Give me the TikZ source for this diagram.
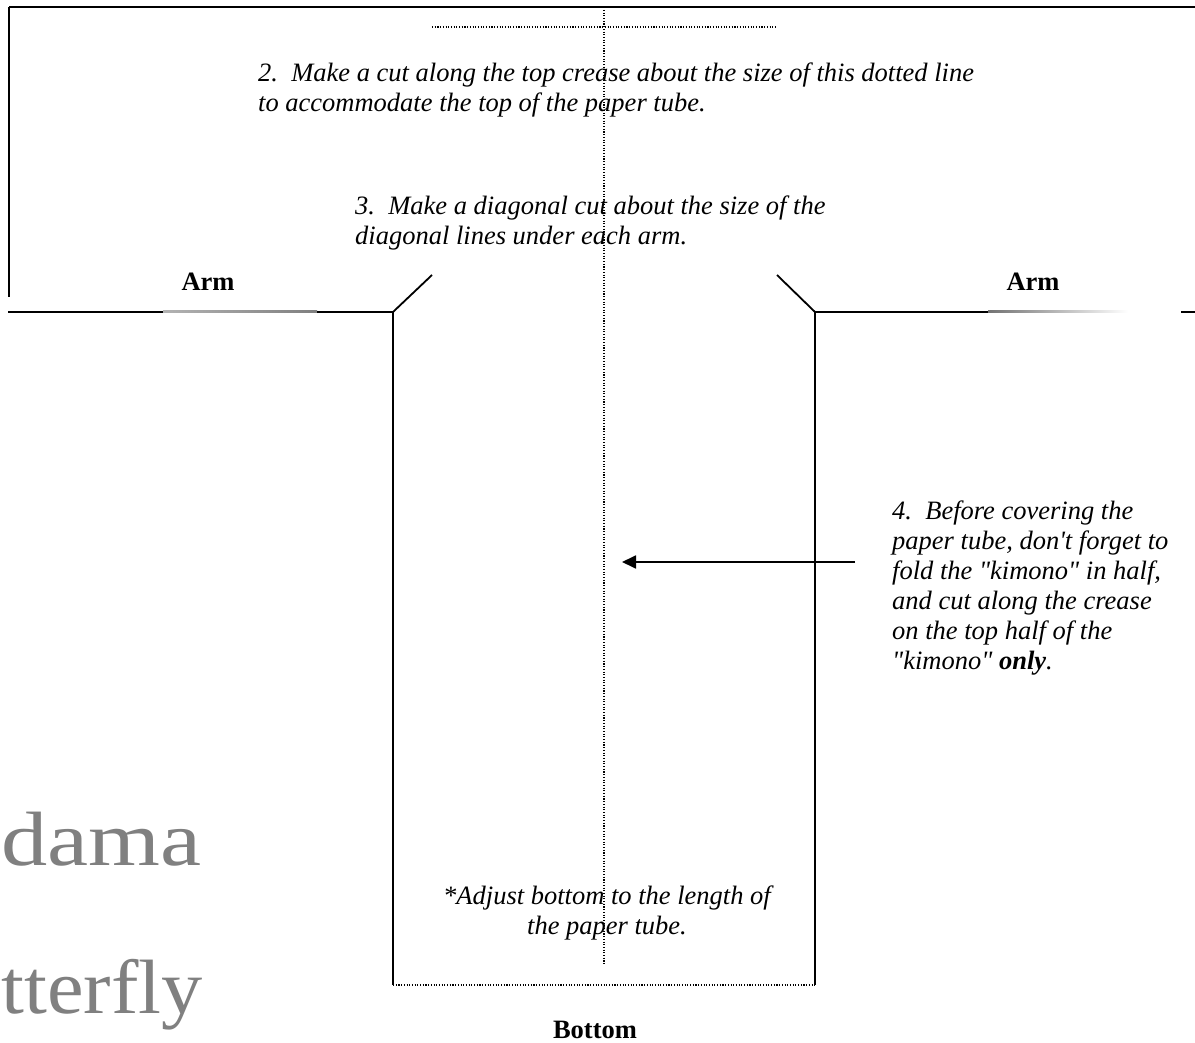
\documentclass[tikz,border=0pt]{standalone}
\usepackage{fontspec}
\setmainfont{Liberation Serif}[Ligatures=TeXOff]
\newfontfamily\logofont{Liberation Serif}[FakeStretch=1.2]
\newfontfamily\logofontb{Liberation Serif}[FakeStretch=1.07]
\usetikzlibrary{arrows.meta}
\begin{document}
\begin{tikzpicture}[x=1pt,y=-1pt,
  cutline/.style={line width=1.8pt,black},
  topline/.style={line width=2.4pt,black},
  creaseline/.style={line width=1.1pt,dash pattern=on 1.1pt off 1.6pt},
  note/.style={font=\fontsize{26.5}{30}\selectfont\itshape,inner sep=0pt,align=left},
  label/.style={font=\fontsize{26.5}{30}\selectfont\bfseries,inner sep=0pt},
  logo/.style={text=black!50,inner sep=0pt,anchor=base west}]
\useasboundingbox (0,0) rectangle (1195,1043);
\fill[white] (0,0) rectangle (1195,1043);
% outline of the top
\draw[topline] (9,7) -- (1195,7);
\draw[cutline] (9,7) -- (9,297);
% left arm line
\draw[cutline] (8,312) -- (163,312);
\shade[left color=black!30,right color=black!50] (163,311) rectangle (317,313);
\draw[cutline] (317,312) -- (393,312) -- (432,275);
\draw[cutline] (393,312) -- (393,985);
% right arm line
\draw[cutline] (777,275) -- (815,312) -- (988,312);
\shade[left color=black!55,right color=white] (988,311) rectangle (1128,313);
\draw[cutline] (1181,312) -- (1195,312);
\draw[cutline] (815,312) -- (815,985);
% dotted lines
\draw[creaseline] (432,27) -- (776,27);
\draw[creaseline] (604,10) -- (604,965);
\draw[creaseline] (393,985) -- (815,985);
% texts
\node[note,anchor=north west] (t2) at (258,63) {2.\ \ Make a cut along the top crease about the size of this dotted line\\to accommodate the top of the paper tube.};
\node[note,anchor=north west] (t3) at (355,196) {3.\ \ Make a diagonal cut about the size of the\\diagonal lines under each arm.};
\node[note,anchor=north west] (t4) at (892,501) {4.\ \ Before covering the\\paper tube, don't forget to\\fold the "kimono" in half,\\and cut along the crease\\on the top half of the\\"kimono" \textbf{only}.};
\node[note,align=center,anchor=north] (tb) at (607,886) {*Adjust bottom to the length of\\the paper tube.};
\node[label] (armL) at (208,282) {Arm};
\node[label] (armR) at (1033,282) {Arm};
\node[label] (bottom) at (595,1030) {Bottom};
\node[logo,font=\logofont\fontsize{77}{80}\selectfont] (logo1) at (1,865) {dama};
\node[logo,font=\logofontb\fontsize{77}{80}\selectfont] (logo2) at (1,1013) {tterfly};
% arrow
\coordinate (as) at (855,562);
\coordinate (ae) at (622,562);
\draw[line width=1.8pt,-{Triangle[length=14pt,width=13pt]}] (as) -- (ae);
\end{tikzpicture}
\end{document}
